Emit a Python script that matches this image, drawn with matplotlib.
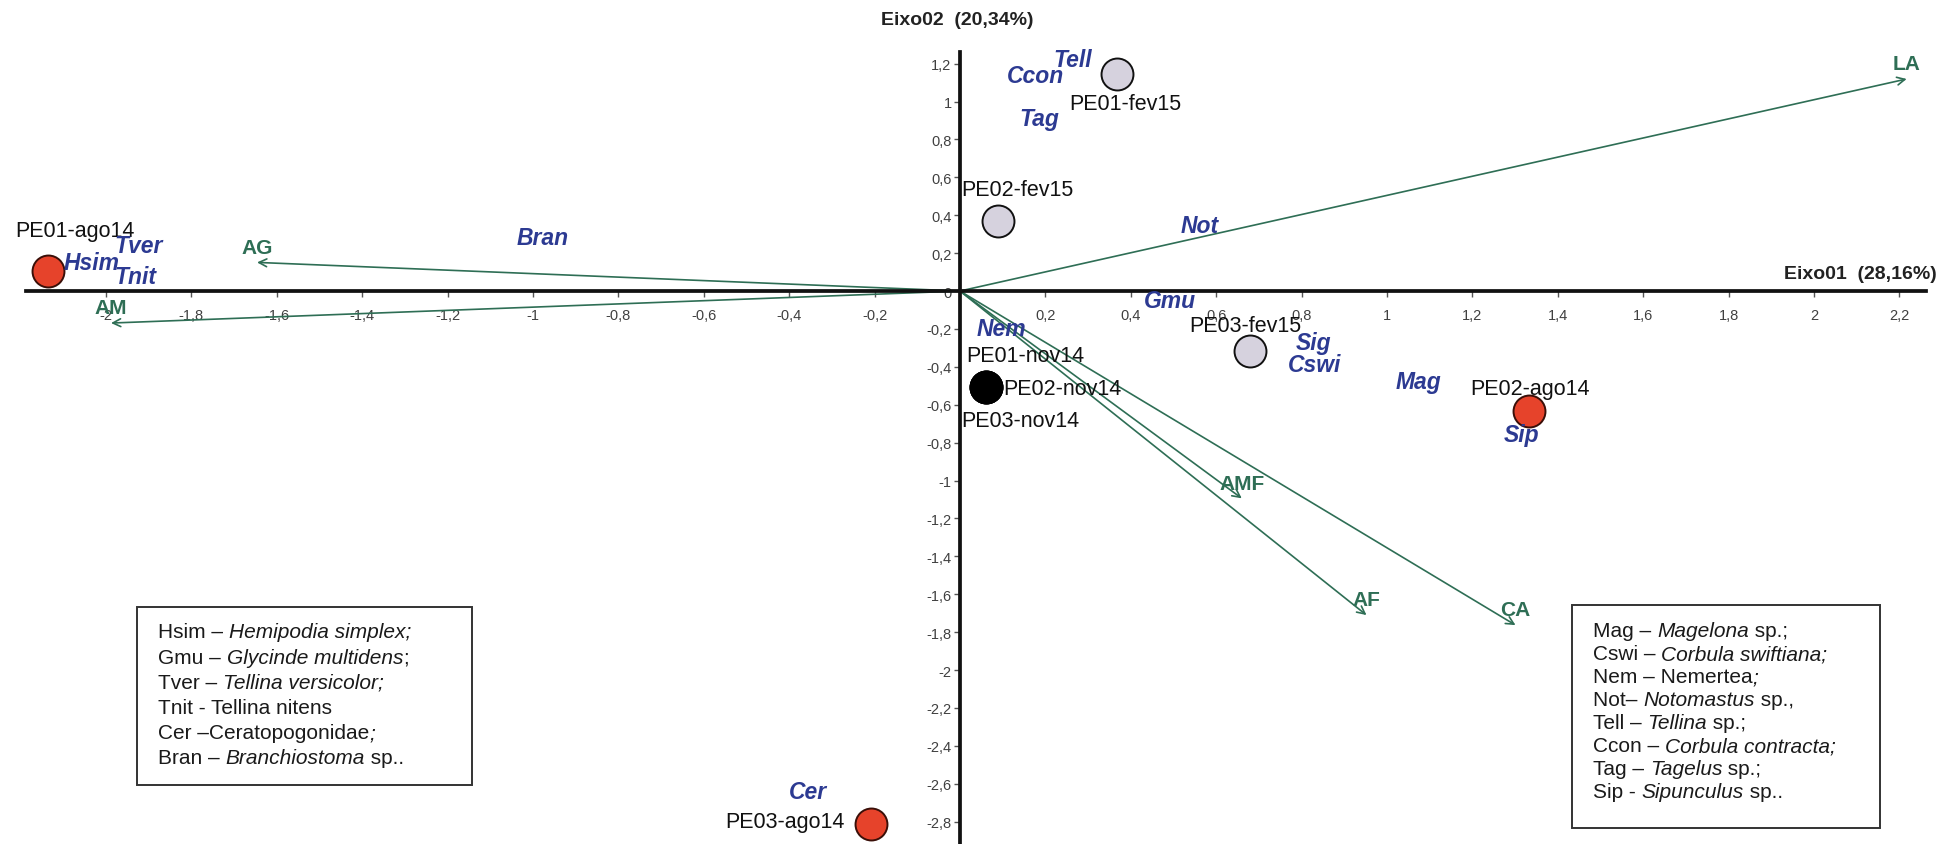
import matplotlib
matplotlib.use('Agg')
import matplotlib.pyplot as plt
from matplotlib.patches import Rectangle
from matplotlib.ticker import FixedLocator, FuncFormatter

plt.rcParams['font.family'] = ['Liberation Sans', 'DejaVu Sans']

# ---------------- data ----------------
site_names = ['PE01-ago14', 'PE02-ago14', 'PE03-ago14',
              'PE01-nov14', 'PE02-nov14', 'PE03-nov14',
              'PE01-fev15', 'PE02-fev15', 'PE03-fev15']
site_x = [-2.135, 1.333, -0.209, 0.061, 0.061, 0.061, 0.368, 0.090, 0.679]
site_y = [0.107, -0.632, -2.81, -0.508, -0.508, -0.508, 1.145, 0.371, -0.315]
site_period = ['ago14', 'ago14', 'ago14', 'nov14', 'nov14', 'nov14',
               'fev15', 'fev15', 'fev15']

species_names = ['Hsim', 'Tver', 'Tnit', 'Bran', 'Tell', 'Ccon', 'Tag', 'Not',
                 'Gmu', 'Nem', 'Sig', 'Cswi', 'Mag', 'Sip', 'Cer']
species_x = [-2.033, -1.924, -1.932, -0.977, 0.265, 0.176, 0.187, 0.562,
             0.492, 0.098, 0.827, 0.831, 1.073, 1.315, -0.356]
species_y = [0.151, 0.239, 0.075, 0.285, 1.224, 1.136, 0.908, 0.345,
             -0.051, -0.200, -0.274, -0.390, -0.479, -0.758, -2.64]

env_names = ['LA', 'AG', 'AM', 'AMF', 'AF', 'CA']
env_x = [2.217, -1.646, -1.988, 0.660, 0.952, 1.301]
env_y = [1.119, 0.151, -0.169, -1.094, -1.710, -1.763]

xtick_values = [-2, -1.8, -1.6, -1.4, -1.2, -1, -0.8, -0.6, -0.4, -0.2,
                0.2, 0.4, 0.6, 0.8, 1, 1.2, 1.4, 1.6, 1.8, 2, 2.2]
ytick_values = [1.2, 1, 0.8, 0.6, 0.4, 0.2, 0, -0.2, -0.4, -0.6, -0.8, -1,
                -1.2, -1.4, -1.6, -1.8, -2, -2.2, -2.4, -2.6, -2.8]

axis1_title = 'Eixo01  (28,16%)'
axis2_title = 'Eixo02  (20,34%)'

legend_left = [
    [('Hsim – ', 'normal'), ('Hemipodia simplex;', 'italic')],
    [('Gmu – ', 'normal'), ('Glycinde multidens', 'italic'), (';', 'normal')],
    [('Tver – ', 'normal'), ('Tellina versicolor;', 'italic')],
    [('Tnit - Tellina nitens', 'normal')],
    [('Cer –Ceratopogonidae', 'normal'), (';', 'italic')],
    [('Bran – ', 'normal'), ('Branchiostoma', 'italic'), (' sp..', 'normal')],
]
legend_right = [
    [('Mag – ', 'normal'), ('Magelona', 'italic'), (' sp.;', 'normal')],
    [('Cswi – ', 'normal'), ('Corbula swiftiana;', 'italic')],
    [('Nem – Nemertea', 'normal'), (';', 'italic')],
    [('Not– ', 'normal'), ('Notomastus', 'italic'), (' sp.,', 'normal')],
    [('Tell – ', 'normal'), ('Tellina', 'italic'), (' sp.;', 'normal')],
    [('Ccon – ', 'normal'), ('Corbula contracta;', 'italic')],
    [('Tag – ', 'normal'), ('Tagelus', 'italic'), (' sp.;', 'normal')],
    [('Sip - ', 'normal'), ('Sipunculus', 'italic'), (' sp..', 'normal')],
]

# ---------------- layout / style ----------------
site_label_pos = {  # (x, y, ha) anchor of each site label
    'PE01-ago14': (-2.213, 0.318, 'left'),
    'PE02-ago14': (1.196, -0.517, 'left'),
    'PE03-ago14': (-0.550, -2.797, 'left'),
    'PE01-nov14': (0.014, -0.340, 'left'),
    'PE02-nov14': (0.101, -0.517, 'left'),
    'PE03-nov14': (0.004, -0.684, 'left'),
    'PE01-fev15': (0.256, 0.990, 'left'),
    'PE02-fev15': (0.004, 0.535, 'left'),
    'PE03-fev15': (0.536, -0.180, 'left'),
}
period_face = {'ago14': '#e6432b', 'nov14': '#000000', 'fev15': '#d6d2de'}
period_edge = {'ago14': '#3a0f08', 'nov14': '#000000', 'fev15': '#111111'}
env_label_dy = 0.08

GREEN = '#2e6e55'
BLUE = '#2c3a92'

W, H = 1953, 845
fig = plt.figure(figsize=(W / 100, H / 100), dpi=100)
ax = fig.add_axes([0, 0, 1, 1])
ax.set_xlim(-2.248, 2.3255)
ax.set_ylim(-2.918, 1.541)

for s in ['top', 'right']:
    ax.spines[s].set_visible(False)
ax.spines['left'].set_position(('data', 0))
ax.spines['bottom'].set_position(('data', 0))
ax.spines['left'].set_bounds(-2.95, 1.261)
ax.spines['bottom'].set_bounds(-2.186, 2.262)
for s in ['left', 'bottom']:
    ax.spines[s].set_linewidth(2.7)
    ax.spines[s].set_color('#111111')
    ax.spines[s].set_zorder(3)

fmt = FuncFormatter(lambda v, p: ('%g' % v).replace('.', ','))
ax.xaxis.set_major_locator(FixedLocator(xtick_values))
ax.yaxis.set_major_locator(FixedLocator(ytick_values))
ax.xaxis.set_major_formatter(fmt)
ax.yaxis.set_major_formatter(fmt)
ax.tick_params(axis='x', direction='out', length=4, width=1, color='#555555',
               pad=8, labelsize=10.5, labelcolor='#404040')
ax.tick_params(axis='y', direction='out', length=4, width=1, color='#555555',
               pad=2, labelsize=10.5, labelcolor='#404040')

# axis titles
ax.text(2.288, 0.09, axis1_title, ha='right', va='center', fontsize=14,
        fontweight='bold', color='#222222')
ax.text(-0.186, 1.435, axis2_title, ha='left', va='center', fontsize=14,
        fontweight='bold', color='#222222')

# environmental vectors
for name, x, y in zip(env_names, env_x, env_y):
    ax.annotate('', xy=(x, y), xytext=(0, 0),
                arrowprops=dict(arrowstyle='->', color=GREEN, lw=1.2,
                                shrinkA=0, shrinkB=0, mutation_scale=14),
                zorder=2)
    ax.text(x, y + env_label_dy, name, ha='center', va='center', fontsize=15,
            fontweight='bold', color=GREEN, zorder=6)

# sites
for name, x, y, per in zip(site_names, site_x, site_y, site_period):
    ax.plot([x], [y], 'o', markersize=23, markerfacecolor=period_face[per],
            markeredgecolor=period_edge[per], markeredgewidth=1.4, zorder=4)
    lx, ly, ha = site_label_pos[name]
    ax.text(lx, ly, name, ha=ha, va='center', fontsize=15.5, color='#111111',
            zorder=6)

# species
for name, x, y in zip(species_names, species_x, species_y):
    ax.text(x, y, name, ha='center', va='center', fontsize=16.5,
            fontweight='bold', fontstyle='italic', color=BLUE, zorder=6)


# legend boxes
def draw_box(x0, y0, x1, y1, lines, tx, ty0, dy):
    ax.add_patch(Rectangle((x0 / W, 1 - y1 / H), (x1 - x0) / W,
                           (y1 - y0) / H, transform=fig.transFigure,
                           facecolor='white', edgecolor='#333333',
                           lw=1.4, zorder=7, clip_on=False))
    for i, parts in enumerate(lines):
        prev = None
        for txt, style in parts:
            if prev is None:
                prev = ax.annotate(txt, xy=(tx, H - (ty0 + i * dy)),
                                   xycoords='figure pixels', ha='left',
                                   va='center', fontsize=15, fontstyle=style,
                                   color='#1a1a1a', zorder=8,
                                   annotation_clip=False)
            else:
                prev = ax.annotate(txt, xy=(1, 0), xycoords=prev, ha='left',
                                   va='bottom', fontsize=15, fontstyle=style,
                                   color='#1a1a1a', zorder=8,
                                   annotation_clip=False)


draw_box(137, 608, 472, 786, legend_left, 158, 633, 25.2)
draw_box(1572, 606, 1880, 829, legend_right, 1593, 632, 23.0)

fig.savefig('out.png', dpi=100, facecolor='white')
